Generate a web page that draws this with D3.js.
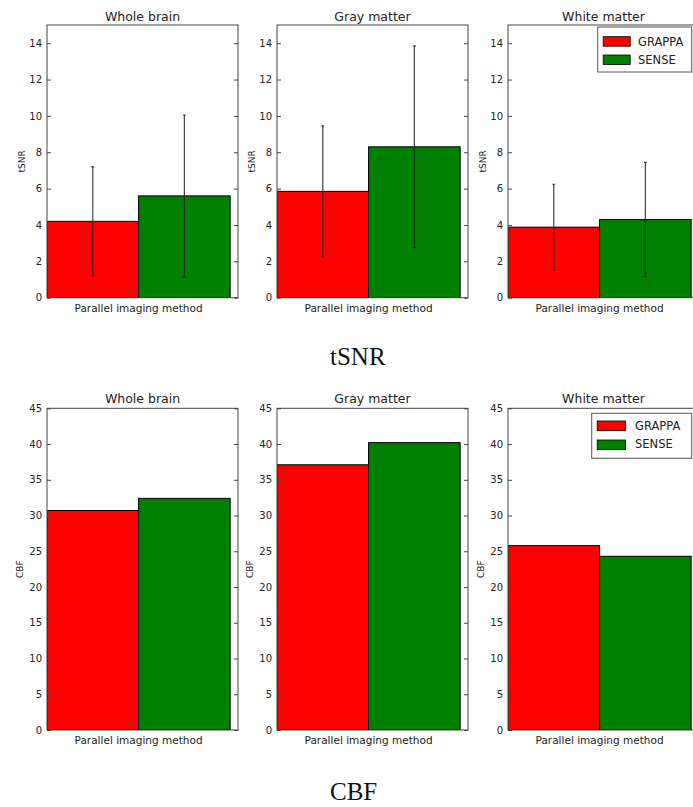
<!DOCTYPE html>
<html>
<head>
<meta charset="utf-8">
<script src="https://cdn.jsdelivr.net/npm/d3@7"></script>
<style>
  html, body { margin: 0; padding: 0; background: #fff; }
  svg { display: block; }
</style>
</head>
<body>
<script>
// ---------------- DATA ----------------
const regions = ["Whole brain", "Gray matter", "White matter"];
const methods = ["GRAPPA", "SENSE"];
const tsnrGrappa = [4.2, 5.85, 3.88];
const tsnrSense = [5.6, 8.3, 4.3];
const tsnrGrappaErr = [3.0, 3.6, 2.36];
const tsnrSenseErr = [4.45, 5.55, 3.14];
const cbfGrappa = [30.7, 37.1, 25.8];
const cbfSense = [32.4, 40.2, 24.3];
const tsnrTicks = [0, 2, 4, 6, 8, 10, 12, 14];
const cbfTicks = [0, 5, 10, 15, 20, 25, 30, 35, 40, 45];
const xLabel = "Parallel imaging method";
const captions = ["tSNR", "CBF"];
const colors = ["#ff0000", "#008000"];

// ---------------- LAYOUT ----------------
const W = 693, H = 807;
const svg = d3.select("body").append("svg").attr("width", W).attr("height", H);

const panelLeft = [47, 277, 508];
const panelWidth = 191;
const barWidth = 0.35;

const rows = [
  {
    ylabel: "tSNR", domain: [0, 15], ticks: tsnrTicks,
    a: tsnrGrappa, b: tsnrSense, ea: tsnrGrappaErr, eb: tsnrSenseErr,
    top: 25, bottom: 297.7, titleY: 21, xlabY: 311.5, ylabX: 25,
    legend: {x: 597.7, y: 27, w: 94, h: 45, sw: 27, sh: 9.5, sy: [36.7, 55], tx: 638, ty: [41.7, 60]},
    caption: captions[0], capY: 365
  },
  {
    ylabel: "CBF", domain: [0, 45], ticks: cbfTicks,
    a: cbfGrappa, b: cbfSense, ea: null, eb: null,
    top: 408.3, bottom: 730, titleY: 403, xlabY: 744, ylabX: 27,
    legend: {x: 591.7, y: 413.3, w: 100, h: 45, sw: 28.3, sh: 9.7, sy: [421, 440], tx: 635, ty: [425.5, 444]},
    caption: captions[1], capY: 800
  }
];

const font = "'DejaVu Sans', sans-serif";
const textCol = "#222";
const spineCol = "#444";

rows.forEach((row) => {
  regions.forEach((region, i) => {
    const x0 = panelLeft[i];
    const x = d3.scaleLinear().domain([0, 0.73]).range([x0, x0 + panelWidth]);
    const y = d3.scaleLinear().domain(row.domain).range([row.bottom, row.top]);
    const g = svg.append("g");

    const vals = [row.a[i], row.b[i]];
    const errs = row.ea ? [row.ea[i], row.eb[i]] : null;
    const clipId = `clip-${row.ylabel}-${i}`;
    svg.append("clipPath").attr("id", clipId).append("rect")
      .attr("x", x0).attr("y", row.top).attr("width", panelWidth).attr("height", row.bottom - row.top);

    const plot = g.append("g").attr("clip-path", `url(#${clipId})`);
    // bars
    plot.selectAll("rect.bar").data(vals).join("rect")
      .attr("class", "bar")
      .attr("x", (d, k) => x(k * barWidth))
      .attr("width", (d, k) => x((k + 1) * barWidth) - x(k * barWidth))
      .attr("y", d => y(d))
      .attr("height", d => y(0) - y(d))
      .attr("fill", (d, k) => colors[k])
      .attr("stroke", "#000").attr("stroke-width", 1);

    // error bars
    if (errs) {
      vals.forEach((v, k) => {
        const cx = x(k * barWidth + barWidth / 2);
        plot.append("line")
          .attr("x1", cx).attr("x2", cx)
          .attr("y1", y(v - errs[k])).attr("y2", y(v + errs[k]))
          .attr("stroke", "#222").attr("stroke-width", 1.2).attr("stroke-opacity", 0.85);
        [v - errs[k], v + errs[k]].forEach(e => {
          plot.append("line")
            .attr("x1", cx - 1.5).attr("x2", cx + 1.5)
            .attr("y1", y(e)).attr("y2", y(e))
            .attr("stroke", "#222").attr("stroke-width", 1.2).attr("stroke-opacity", 0.85);
        });
      });
    }

    // left axis (ticks inward)
    const left = g.append("g").attr("transform", `translate(${x0},0)`)
      .call(d3.axisLeft(y).tickValues(row.ticks).tickSizeInner(-4).tickSizeOuter(0).tickPadding(5));
    left.select(".domain").remove();
    left.selectAll("line").attr("stroke", spineCol);
    left.selectAll("text").attr("font-family", font).attr("font-size", 10).attr("fill", textCol);

    // right axis ticks inward
    const right = g.append("g").attr("transform", `translate(${x0 + panelWidth},0)`)
      .call(d3.axisRight(y).tickValues(row.ticks).tickSizeInner(-4).tickSizeOuter(0).tickFormat(""));
    right.select(".domain").remove();
    right.selectAll("line").attr("stroke", spineCol);

    // frame
    g.append("rect")
      .attr("x", x0).attr("y", row.top)
      .attr("width", panelWidth).attr("height", row.bottom - row.top)
      .attr("fill", "none").attr("stroke", spineCol).attr("stroke-width", 1);

    // title
    g.append("text")
      .attr("x", x0 + panelWidth / 2).attr("y", row.titleY)
      .attr("text-anchor", "middle")
      .attr("font-family", font).attr("font-size", 12.5).attr("fill", textCol)
      .text(region);

    // x label
    g.append("text")
      .attr("x", x(barWidth)).attr("y", row.xlabY)
      .attr("text-anchor", "middle")
      .attr("font-family", font).attr("font-size", 10.5).attr("fill", textCol)
      .text(xLabel);

    // y label
    g.append("text")
      .attr("transform", `translate(${x0 - row.ylabX},${(row.top + row.bottom) / 2}) rotate(-90)`)
      .attr("text-anchor", "middle").attr("dy", "0.35em")
      .attr("font-family", font).attr("font-size", 9).attr("fill", textCol)
      .text(row.ylabel);

    // legend in last panel
    if (i === regions.length - 1) {
      const L = row.legend;
      const lg = g.append("g");
      lg.append("rect").attr("x", L.x).attr("y", L.y).attr("width", L.w).attr("height", L.h)
        .attr("fill", "#fff").attr("stroke", "#555").attr("stroke-width", 1);
      methods.forEach((m, k) => {
        lg.append("rect").attr("x", L.x + 5.5).attr("y", L.sy[k]).attr("width", L.sw).attr("height", L.sh)
          .attr("fill", colors[k]).attr("stroke", "#000").attr("stroke-width", 0.8);
        lg.append("text").attr("x", L.tx).attr("y", L.ty[k]).attr("dy", "0.36em")
          .attr("font-family", font).attr("font-size", 11.5).attr("fill", textCol)
          .text(m);
      });
    }
  });

  // caption
  svg.append("text")
    .attr("x", 330).attr("y", row.capY)
    .attr("font-family", "'Liberation Serif', 'Times New Roman', serif")
    .attr("font-size", 25).attr("fill", "#111")
    .text(row.caption);
});
</script>
</body>
</html>
